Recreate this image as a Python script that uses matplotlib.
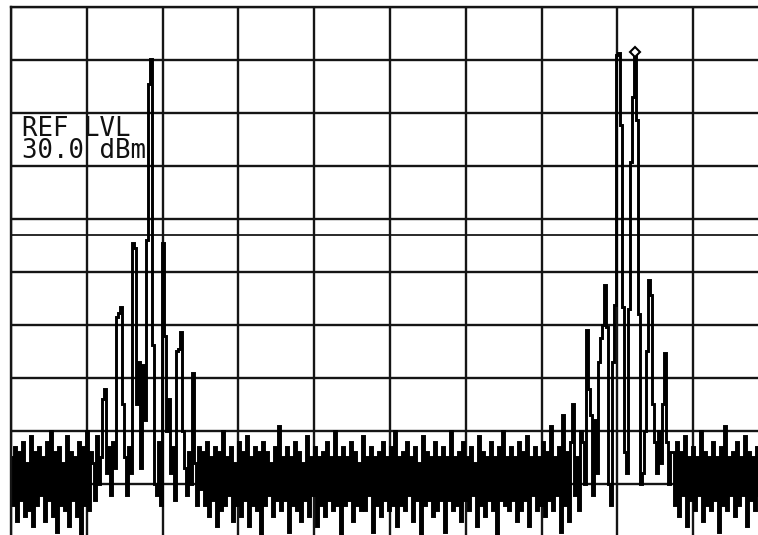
import numpy as np
import matplotlib
matplotlib.use("Agg")
import matplotlib.pyplot as plt

# Spectrum analyzer settings
ref_level_dbm = 30.0
db_per_div = 10
n_div = 10
ref_label = ["REF LVL", "30.0 dBm"]

# Trace values (dBm), ~2 px per sweep point
seg_a = [-55, -64, -53, -67, -54, -63, -52, -66, -56, -65, -51, -68, -54, -64, -53, -62,
         -55, -67, -52, -63, -50, -66, -54, -69, -53, -64, -56, -65, -51, -68, -54, -63,
         -55, -66, -52, -70, -53, -64, -50, -65, -54]
seg_b = [-56, -63, -51, -60, -55, -44, -42, -58, -53, -62, -52, -57, -28.5, -27.7, -26.6,
         -45, -55, -62, -53, -58, -14.5, -15.5, -45, -37, -57, -37.5, -48, -14, 15.5, 20.2,
         -33.8, -60, -62, -52, -64, -14.5, -32, -50, -44, -58, -53, -63, -35, -34.5, -31.3,
         -50, -57, -62, -54, -60, -39, -56, -64, -53, -61]
seg_c = [-54, -64, -52, -66, -55, -63, -53, -68, -54, -65,
         -50, -64, -55, -62, -53, -67, -56, -64, -52, -66,
         -54, -63, -51, -68, -55, -64, -53, -65, -54, -70,
         -52, -64, -54, -62, -56, -66, -53, -63, -49, -65,
         -55, -63, -53, -69, -55, -64, -52, -65, -54, -67,
         -56, -63, -51, -66, -55, -62, -53, -68, -55, -64,
         -54, -66, -52, -63, -55, -65, -50, -64, -55, -70,
         -53, -64, -55, -63, -52, -67, -54, -64, -56, -65,
         -51, -65, -55, -62, -53, -69, -55, -64, -54, -66,
         -52, -63, -55, -65, -53, -64, -50, -68, -55, -64,
         -54, -65, -52, -62, -55, -67, -53, -63, -56, -70,
         -51, -64, -54, -63, -55, -66, -52, -65, -55, -63,
         -53, -69, -55, -63, -50, -65, -55, -64, -54, -67,
         -52, -63, -55, -65, -53, -62, -56, -68, -51, -64,
         -54, -66, -55, -63, -52, -65, -55, -70, -53, -63,
         -50, -64, -55, -65, -53, -63, -55, -67, -52, -65,
         -54, -63, -51, -68, -55, -62, -53, -65, -55, -64,
         -52, -66, -54, -63, -49, -65, -55, -62, -53, -69,
         -47, -64, -54, -67, -52, -45, -62, -55, -65, -50]
seg_d = [-52, -60, -31, -42, -47, -62, -48, -58, -37, -32.5, -30, -22.5, -30.4, -60, -64,
         -37, -26.3, 21, 21.3, 7.7, -26.6, -54, -58, -27, 0.8, 13, 21.1, 8.7, -28, -60,
         -58, -50, -35, -21.5, -24.3, -45, -52, -58, -50, -56, -45, -35.3, -52, -60, -54]
seg_e = [-54, -64, -52, -66, -54, -62, -51, -68, -55, -63,
         -53, -65, -55, -62, -50, -67, -54, -64, -55, -65,
         -52, -63, -55, -69, -53, -64, -49, -65, -55, -62,
         -54, -66, -52, -64, -55, -62, -51, -68, -54, -63,
         -55, -65, -53, -62, -50, -67, -55, -64, -53]

trace = np.array(seg_a + seg_b + seg_c + seg_d + seg_e, dtype=float)
marker_index = len(seg_a) + len(seg_b) + len(seg_c) + 26

freq_div = np.linspace(0, n_div, len(trace))

W, H = 758, 535
fig = plt.figure(figsize=(W / 100, H / 100), dpi=100)
fig.patch.set_facecolor("white")
ax = fig.add_axes([11 / W, 1 - 537 / H, 758 / W, 530 / H])
ax.set_facecolor("white")

bottom = ref_level_dbm - n_div * db_per_div
ax.set_xlim(0, n_div)
ax.set_ylim(bottom, ref_level_dbm)
ax.set_xticks(np.arange(0, n_div + 1))
ax.set_yticks(np.arange(bottom, ref_level_dbm + 1, db_per_div))
ax.tick_params(length=0, labelleft=False, labelbottom=False)
ax.grid(True, color="#151515", linewidth=1.7)
ax.set_axisbelow(True)
# display artefact: an extra graticule line just below the -10 dB line
ax.axhline(-13.0, color="#2a2a2a", linewidth=1.4, zorder=0.5)
for s in ["left", "top"]:
    ax.spines[s].set_linewidth(1.7)
    ax.spines[s].set_color("#151515")
for s in ["right", "bottom"]:
    ax.spines[s].set_visible(False)

ax.plot(freq_div, trace, drawstyle="steps-mid", color="black", linewidth=2.1,
        solid_joinstyle="miter")
ax.plot(freq_div[marker_index], trace[marker_index] + 0.5, marker="D", markersize=5,
        markerfacecolor="white", markeredgecolor="black", markeredgewidth=1.5)

ax.text(0.0145, 0.7151, "\n".join(ref_label), transform=ax.transAxes,
        family="DejaVu Sans Mono", fontsize=18.5, color="#111111",
        va="baseline", ha="left", linespacing=0.8)

fig.savefig("out.png", dpi=100, facecolor="white")
